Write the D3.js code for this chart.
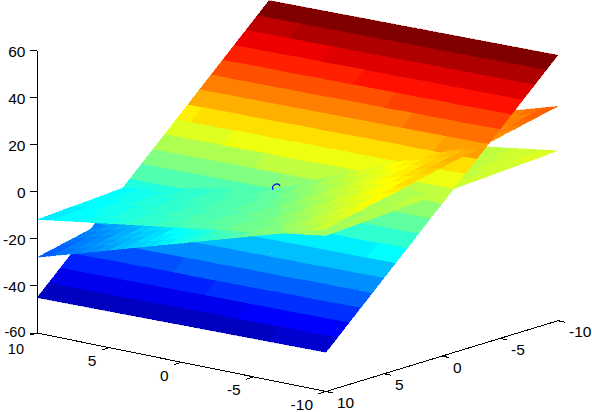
<!DOCTYPE html>
<html><head><meta charset="utf-8">
<script src="https://cdnjs.cloudflare.com/ajax/libs/d3/7.8.5/d3.min.js"></script>
<style>html,body{margin:0;padding:0;background:#fff;overflow:hidden}text{font-family:"Liberation Sans",Arial,sans-serif;font-size:15.5px;fill:#000}</style>
</head><body><svg id="c" width="592" height="412"></svg>
<script>
const gridA=[-10,-9,-8,-7,-6,-5,-4,-3,-2,-1,0,1,2,3,4,5,6,7,8,9,10];
const gridB=[-10,-9,-8,-7,-6,-5,-4,-3,-2,-1,0,1,2,3,4,5,6,7,8,9,10];
const ticksA=[10,5,0,-5,-10];
const ticksB=[10,5,0,-5,-10];
const ticksZ=[60,40,20,0,-20,-40,-60];
const markerPoint=[0.8,0.8,-0.8];
const surface1=[
[52.8,52.72,52.64,52.56,52.48,52.4,52.32,52.24,52.16,52.08,52,51.92,51.84,51.76,51.68,51.6,51.52,51.44,51.36,51.28,51.2],
[47.99,47.91,47.83,47.75,47.67,47.59,47.51,47.43,47.35,47.27,47.19,47.11,47.03,46.95,46.87,46.79,46.71,46.63,46.55,46.47,46.39],
[43.18,43.1,43.02,42.94,42.86,42.78,42.7,42.62,42.54,42.46,42.38,42.3,42.22,42.14,42.06,41.98,41.9,41.82,41.74,41.66,41.58],
[38.37,38.29,38.21,38.13,38.05,37.97,37.89,37.81,37.73,37.65,37.57,37.49,37.41,37.33,37.25,37.17,37.09,37.01,36.93,36.85,36.77],
[33.56,33.48,33.4,33.32,33.24,33.16,33.08,33,32.92,32.84,32.76,32.68,32.6,32.52,32.44,32.36,32.28,32.2,32.12,32.04,31.96],
[28.75,28.67,28.59,28.51,28.43,28.35,28.27,28.19,28.11,28.03,27.95,27.87,27.79,27.71,27.63,27.55,27.47,27.39,27.31,27.23,27.15],
[23.94,23.86,23.78,23.7,23.62,23.54,23.46,23.38,23.3,23.22,23.14,23.06,22.98,22.9,22.82,22.74,22.66,22.58,22.5,22.42,22.34],
[19.13,19.05,18.97,18.89,18.81,18.73,18.65,18.57,18.49,18.41,18.33,18.25,18.17,18.09,18.01,17.93,17.85,17.77,17.69,17.61,17.53],
[14.32,14.24,14.16,14.08,14,13.92,13.84,13.76,13.68,13.6,13.52,13.44,13.36,13.28,13.2,13.12,13.04,12.96,12.88,12.8,12.72],
[9.51,9.43,9.35,9.27,9.19,9.11,9.03,8.95,8.87,8.79,8.71,8.63,8.55,8.47,8.39,8.31,8.23,8.15,8.07,7.99,7.91],
[4.7,4.62,4.54,4.46,4.38,4.3,4.22,4.14,4.06,3.98,3.9,3.82,3.74,3.66,3.58,3.5,3.42,3.34,3.26,3.18,3.1],
[-.11,-.19,-.27,-.35,-.43,-.51,-.59,-.67,-.75,-.83,-.91,-.99,-1.07,-1.15,-1.23,-1.31,-1.39,-1.47,-1.55,-1.63,-1.71],
[-4.92,-5,-5.08,-5.16,-5.24,-5.32,-5.4,-5.48,-5.56,-5.64,-5.72,-5.8,-5.88,-5.96,-6.04,-6.12,-6.2,-6.28,-6.36,-6.44,-6.52],
[-9.73,-9.81,-9.89,-9.97,-10.05,-10.13,-10.21,-10.29,-10.37,-10.45,-10.53,-10.61,-10.69,-10.77,-10.85,-10.93,-11.01,-11.09,-11.17,-11.25,-11.33],
[-14.54,-14.62,-14.7,-14.78,-14.86,-14.94,-15.02,-15.1,-15.18,-15.26,-15.34,-15.42,-15.5,-15.58,-15.66,-15.74,-15.82,-15.9,-15.98,-16.06,-16.14],
[-19.35,-19.43,-19.51,-19.59,-19.67,-19.75,-19.83,-19.91,-19.99,-20.07,-20.15,-20.23,-20.31,-20.39,-20.47,-20.55,-20.63,-20.71,-20.79,-20.87,-20.95],
[-24.16,-24.24,-24.32,-24.4,-24.48,-24.56,-24.64,-24.72,-24.8,-24.88,-24.96,-25.04,-25.12,-25.2,-25.28,-25.36,-25.44,-25.52,-25.6,-25.68,-25.76],
[-28.97,-29.05,-29.13,-29.21,-29.29,-29.37,-29.45,-29.53,-29.61,-29.69,-29.77,-29.85,-29.93,-30.01,-30.09,-30.17,-30.25,-30.33,-30.41,-30.49,-30.57],
[-33.78,-33.86,-33.94,-34.02,-34.1,-34.18,-34.26,-34.34,-34.42,-34.5,-34.58,-34.66,-34.74,-34.82,-34.9,-34.98,-35.06,-35.14,-35.22,-35.3,-35.38],
[-38.59,-38.67,-38.75,-38.83,-38.91,-38.99,-39.07,-39.15,-39.23,-39.31,-39.39,-39.47,-39.55,-39.63,-39.71,-39.79,-39.87,-39.95,-40.03,-40.11,-40.19],
[-43.4,-43.48,-43.56,-43.64,-43.72,-43.8,-43.88,-43.96,-44.04,-44.12,-44.2,-44.28,-44.36,-44.44,-44.52,-44.6,-44.68,-44.76,-44.84,-44.92,-45]];
const surface2=[
[12.2,11.3,10.4,9.5,8.6,7.7,6.8,5.9,5,4.1,3.2,2.3,1.4,.5,-.4,-1.3,-2.2,-3.1,-4,-4.9,-5.8],
[11.9,11,10.1,9.2,8.3,7.4,6.5,5.6,4.7,3.8,2.9,2,1.1,.2,-.7,-1.6,-2.5,-3.4,-4.3,-5.2,-6.1],
[11.6,10.7,9.8,8.9,8,7.1,6.2,5.3,4.4,3.5,2.6,1.7,.8,-.1,-1,-1.9,-2.8,-3.7,-4.6,-5.5,-6.4],
[11.3,10.4,9.5,8.6,7.7,6.8,5.9,5,4.1,3.2,2.3,1.4,.5,-.4,-1.3,-2.2,-3.1,-4,-4.9,-5.8,-6.7],
[11,10.1,9.2,8.3,7.4,6.5,5.6,4.7,3.8,2.9,2,1.1,.2,-.7,-1.6,-2.5,-3.4,-4.3,-5.2,-6.1,-7],
[10.7,9.8,8.9,8,7.1,6.2,5.3,4.4,3.5,2.6,1.7,.8,-.1,-1,-1.9,-2.8,-3.7,-4.6,-5.5,-6.4,-7.3],
[10.4,9.5,8.6,7.7,6.8,5.9,5,4.1,3.2,2.3,1.4,.5,-.4,-1.3,-2.2,-3.1,-4,-4.9,-5.8,-6.7,-7.6],
[10.1,9.2,8.3,7.4,6.5,5.6,4.7,3.8,2.9,2,1.1,.2,-.7,-1.6,-2.5,-3.4,-4.3,-5.2,-6.1,-7,-7.9],
[9.8,8.9,8,7.1,6.2,5.3,4.4,3.5,2.6,1.7,.8,-.1,-1,-1.9,-2.8,-3.7,-4.6,-5.5,-6.4,-7.3,-8.2],
[9.5,8.6,7.7,6.8,5.9,5,4.1,3.2,2.3,1.4,.5,-.4,-1.3,-2.2,-3.1,-4,-4.9,-5.8,-6.7,-7.6,-8.5],
[9.2,8.3,7.4,6.5,5.6,4.7,3.8,2.9,2,1.1,.2,-.7,-1.6,-2.5,-3.4,-4.3,-5.2,-6.1,-7,-7.9,-8.8],
[8.9,8,7.1,6.2,5.3,4.4,3.5,2.6,1.7,.8,-.1,-1,-1.9,-2.8,-3.7,-4.6,-5.5,-6.4,-7.3,-8.2,-9.1],
[8.6,7.7,6.8,5.9,5,4.1,3.2,2.3,1.4,.5,-.4,-1.3,-2.2,-3.1,-4,-4.9,-5.8,-6.7,-7.6,-8.5,-9.4],
[8.3,7.4,6.5,5.6,4.7,3.8,2.9,2,1.1,.2,-.7,-1.6,-2.5,-3.4,-4.3,-5.2,-6.1,-7,-7.9,-8.8,-9.7],
[8,7.1,6.2,5.3,4.4,3.5,2.6,1.7,.8,-.1,-1,-1.9,-2.8,-3.7,-4.6,-5.5,-6.4,-7.3,-8.2,-9.1,-10],
[7.7,6.8,5.9,5,4.1,3.2,2.3,1.4,.5,-.4,-1.3,-2.2,-3.1,-4,-4.9,-5.8,-6.7,-7.6,-8.5,-9.4,-10.3],
[7.4,6.5,5.6,4.7,3.8,2.9,2,1.1,.2,-.7,-1.6,-2.5,-3.4,-4.3,-5.2,-6.1,-7,-7.9,-8.8,-9.7,-10.6],
[7.1,6.2,5.3,4.4,3.5,2.6,1.7,.8,-.1,-1,-1.9,-2.8,-3.7,-4.6,-5.5,-6.4,-7.3,-8.2,-9.1,-10,-10.9],
[6.8,5.9,5,4.1,3.2,2.3,1.4,.5,-.4,-1.3,-2.2,-3.1,-4,-4.9,-5.8,-6.7,-7.6,-8.5,-9.4,-10.3,-11.2],
[6.5,5.6,4.7,3.8,2.9,2,1.1,.2,-.7,-1.6,-2.5,-3.4,-4.3,-5.2,-6.1,-7,-7.9,-8.8,-9.7,-10.6,-11.5],
[6.2,5.3,4.4,3.5,2.6,1.7,.8,-.1,-1,-1.9,-2.8,-3.7,-4.6,-5.5,-6.4,-7.3,-8.2,-9.1,-10,-10.9,-11.8]];
const surface3=[
[31.1,29.25,27.4,25.55,23.7,21.85,20,18.15,16.3,14.45,12.6,10.75,8.9,7.05,5.2,3.35,1.5,-.35,-2.2,-4.05,-5.9],
[30,28.15,26.3,24.45,22.6,20.75,18.9,17.05,15.2,13.35,11.5,9.65,7.8,5.95,4.1,2.25,.4,-1.45,-3.3,-5.15,-7],
[28.9,27.05,25.2,23.35,21.5,19.65,17.8,15.95,14.1,12.25,10.4,8.55,6.7,4.85,3,1.15,-.7,-2.55,-4.4,-6.25,-8.1],
[27.8,25.95,24.1,22.25,20.4,18.55,16.7,14.85,13,11.15,9.3,7.45,5.6,3.75,1.9,.05,-1.8,-3.65,-5.5,-7.35,-9.2],
[26.7,24.85,23,21.15,19.3,17.45,15.6,13.75,11.9,10.05,8.2,6.35,4.5,2.65,.8,-1.05,-2.9,-4.75,-6.6,-8.45,-10.3],
[25.6,23.75,21.9,20.05,18.2,16.35,14.5,12.65,10.8,8.95,7.1,5.25,3.4,1.55,-.3,-2.15,-4,-5.85,-7.7,-9.55,-11.4],
[24.5,22.65,20.8,18.95,17.1,15.25,13.4,11.55,9.7,7.85,6,4.15,2.3,.45,-1.4,-3.25,-5.1,-6.95,-8.8,-10.65,-12.5],
[23.4,21.55,19.7,17.85,16,14.15,12.3,10.45,8.6,6.75,4.9,3.05,1.2,-.65,-2.5,-4.35,-6.2,-8.05,-9.9,-11.75,-13.6],
[22.3,20.45,18.6,16.75,14.9,13.05,11.2,9.35,7.5,5.65,3.8,1.95,.1,-1.75,-3.6,-5.45,-7.3,-9.15,-11,-12.85,-14.7],
[21.2,19.35,17.5,15.65,13.8,11.95,10.1,8.25,6.4,4.55,2.7,.85,-1,-2.85,-4.7,-6.55,-8.4,-10.25,-12.1,-13.95,-15.8],
[20.1,18.25,16.4,14.55,12.7,10.85,9,7.15,5.3,3.45,1.6,-.25,-2.1,-3.95,-5.8,-7.65,-9.5,-11.35,-13.2,-15.05,-16.9],
[19,17.15,15.3,13.45,11.6,9.75,7.9,6.05,4.2,2.35,.5,-1.35,-3.2,-5.05,-6.9,-8.75,-10.6,-12.45,-14.3,-16.15,-18],
[17.9,16.05,14.2,12.35,10.5,8.65,6.8,4.95,3.1,1.25,-.6,-2.45,-4.3,-6.15,-8,-9.85,-11.7,-13.55,-15.4,-17.25,-19.1],
[16.8,14.95,13.1,11.25,9.4,7.55,5.7,3.85,2,.15,-1.7,-3.55,-5.4,-7.25,-9.1,-10.95,-12.8,-14.65,-16.5,-18.35,-20.2],
[15.7,13.85,12,10.15,8.3,6.45,4.6,2.75,.9,-.95,-2.8,-4.65,-6.5,-8.35,-10.2,-12.05,-13.9,-15.75,-17.6,-19.45,-21.3],
[14.6,12.75,10.9,9.05,7.2,5.35,3.5,1.65,-.2,-2.05,-3.9,-5.75,-7.6,-9.45,-11.3,-13.15,-15,-16.85,-18.7,-20.55,-22.4],
[13.5,11.65,9.8,7.95,6.1,4.25,2.4,.55,-1.3,-3.15,-5,-6.85,-8.7,-10.55,-12.4,-14.25,-16.1,-17.95,-19.8,-21.65,-23.5],
[12.4,10.55,8.7,6.85,5,3.15,1.3,-.55,-2.4,-4.25,-6.1,-7.95,-9.8,-11.65,-13.5,-15.35,-17.2,-19.05,-20.9,-22.75,-24.6],
[11.3,9.45,7.6,5.75,3.9,2.05,.2,-1.65,-3.5,-5.35,-7.2,-9.05,-10.9,-12.75,-14.6,-16.45,-18.3,-20.15,-22,-23.85,-25.7],
[10.2,8.35,6.5,4.65,2.8,.95,-.9,-2.75,-4.6,-6.45,-8.3,-10.15,-12,-13.85,-15.7,-17.55,-19.4,-21.25,-23.1,-24.95,-26.8],
[9.1,7.25,5.4,3.55,1.7,-.15,-2,-3.85,-5.7,-7.55,-9.4,-11.25,-13.1,-14.95,-16.8,-18.65,-20.5,-22.35,-24.2,-26.05,-27.9]];

// orthographic projection built from linear scales
const xA=d3.scaleLinear().domain([10,-10]).range([0,289]);
const yA=d3.scaleLinear().domain([10,-10]).range([0,58.5]);
const xB=d3.scaleLinear().domain([10,-10]).range([0,232]);
const yB=d3.scaleLinear().domain([10,-10]).range([0,-70.8]);
const yZ=d3.scaleLinear().domain([-60,60]).range([333,50.5]);
const OX=37;
const project=(a,b,z)=>[OX+xA(a)+xB(b), yZ(z)+yA(a)+yB(b)];

// MATLAB jet(64)
const clip=v=>Math.max(0,Math.min(1,v));
const jet=d3.range(64).map(i=>{const t=(i+1)/64;
  return d3.rgb(255*clip(Math.min(4*t-1.5,-4*t+4.5)),255*clip(Math.min(4*t-.5,-4*t+3.5)),255*clip(Math.min(4*t+.5,-4*t+2.5))).formatHex();});
const surfaces=[surface1,surface2,surface3];
const color=d3.scaleQuantize().domain(d3.extent(surfaces.flat(2))).range(jet);

// hidden surface: depth measured relative to the steep surface's slope
const depth=(a,b,z)=>z+4.81*b+0.08*a;
const quads=[];
surfaces.forEach((S,si)=>{
  const n=si===0?1:4;
  for(let j=0;j<gridB.length-1;j++)for(let i=0;i<gridA.length-1;i++){
    const fill=color(S[j][i]);
    const a0=gridA[i],a1=gridA[i+1],b0=gridB[j],b1=gridB[j+1];
    const sa=d3.scaleLinear().domain([0,n]).range([a0,a1]);
    const sb=d3.scaleLinear().domain([0,n]).range([b0,b1]);
    const zAt=(u,v)=>{const p=u/n,q=v/n;
      return S[j][i]*(1-p)*(1-q)+S[j][i+1]*p*(1-q)+S[j+1][i]*(1-p)*q+S[j+1][i+1]*p*q;};
    for(let v=0;v<n;v++)for(let u=0;u<n;u++){
      const c=[[u,v],[u+1,v],[u+1,v+1],[u,v+1]].map(([m,k])=>project(sa(m),sb(k),zAt(m,k)));
      quads.push({pts:c.map(p=>p[0].toFixed(2)+","+p[1].toFixed(2)).join(" "),fill,
        d:depth(sa(u+.5),sb(v+.5),zAt(u+.5,v+.5))});
    }
  }
});
quads.sort((p,q)=>d3.ascending(p.d,q.d));

const svg=d3.select("#c");
svg.append("g").attr("shape-rendering","crispEdges").selectAll("polygon").data(quads).join("polygon")
  .attr("points",d=>d.pts).attr("fill",d=>d.fill).attr("stroke",d=>d.fill).attr("stroke-width",0.3);

// marker
const [mx,my]=project(...markerPoint);
svg.append("path").attr("transform",`translate(${mx},${my})`)
  .attr("d",d3.arc().innerRadius(4).outerRadius(4).startAngle(-115*Math.PI/180).endAngle(60*Math.PI/180)())
  .attr("fill","none").attr("stroke","#0000ff").attr("stroke-width",1.2);

// axes
const ax=svg.append("g").attr("stroke","#000").attr("stroke-width",1).attr("shape-rendering","crispEdges");
const seg=(p,q)=>ax.append("path").attr("fill","none").attr("d",d3.line()([p,q]));
seg(project(10,10,60),project(10,10,-60));
seg(project(10,10,-60),project(-10,10,-60));
seg(project(-10,10,-60),project(-10,-10,-60));
ticksZ.forEach(t=>{const p=project(10,10,t);seg([p[0]-7.5,p[1]],p);});
ticksA.forEach(t=>seg(project(t,10,-60),project(t,10.65,-60)));
ticksB.forEach(t=>seg(project(-10,t,-60),project(-10.5,t,-60)));

const lab=svg.append("g");
ticksZ.forEach(t=>{const p=project(10,10,t);
  lab.append("text").attr("x",p[0]-11.5).attr("y",p[1]+(t===-60?-1.5:.5)).attr("text-anchor","end").attr("dominant-baseline","central").style("font-size",t===-60?"14.5px":null).text(t);});
ticksA.forEach(t=>{const p=project(t,10,-60);
  lab.append("text").attr("x",p[0]-13).attr("y",p[1]+(t===10?15.5:13)).attr("text-anchor","end").attr("dominant-baseline","central").style("font-size",t===10?"14.5px":null).text(t);});
ticksB.forEach(t=>{const p=project(-10,t,-60);
  lab.append("text").attr("x",p[0]+11).attr("y",p[1]+11).attr("text-anchor","start").attr("dominant-baseline","central").text(t);});
</script></body></html>
